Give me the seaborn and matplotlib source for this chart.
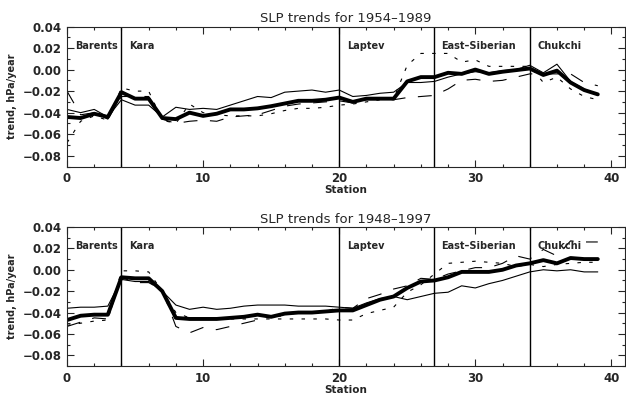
import numpy as np
import pandas as pd
import matplotlib
matplotlib.use("Agg")
import matplotlib.pyplot as plt
import seaborn as sns
from matplotlib.ticker import MultipleLocator

sns.set_style("ticks")
plt.rcParams["font.family"] = ["DejaVu Sans"]
plt.rcParams["lines.scale_dashes"] = False

stations = np.arange(40)

# SLP trends 1954-1989 (hPa/year)
mean_5489 = [-0.044, -0.045, -0.041, -0.044, -0.021, -0.027, -0.027, -0.045, -0.046, -0.040,
             -0.043, -0.041, -0.037, -0.037, -0.036, -0.034, -0.0315, -0.029, -0.029, -0.028,
             -0.026, -0.030, -0.027, -0.027, -0.027, -0.011, -0.007, -0.007, -0.003, -0.004,
             0.000, -0.004, -0.002, -0.0005, 0.001, -0.005, -0.001, -0.012, -0.019, -0.023]
thin_5489 = [-0.037, -0.040, -0.037, -0.044, -0.028, -0.033, -0.033, -0.044, -0.035, -0.037,
             -0.036, -0.037, -0.033, -0.029, -0.025, -0.026, -0.021, -0.020, -0.019, -0.021,
             -0.019, -0.025, -0.024, -0.022, -0.021, -0.012, -0.012, -0.011, -0.007, -0.004,
             -0.002, -0.003, -0.001, 0.000, 0.004, -0.003, 0.005, -0.011, -0.018, -0.023]
dot_5489 = [-0.068, -0.048, -0.043, -0.047, -0.017, -0.020, -0.020, -0.047, -0.050, -0.032,
            -0.040, -0.042, -0.043, -0.043, -0.043, -0.041, -0.038, -0.036, -0.036, -0.035,
            -0.033, -0.032, -0.030, -0.028, -0.027, 0.004, 0.015, 0.015, 0.015, 0.007,
            0.009, 0.003, 0.003, 0.003, 0.003, -0.012, -0.007, -0.018, -0.025, -0.028]
dash_5489 = [-0.020, -0.042, -0.040, -0.046, -0.025, -0.025, -0.025, -0.046, -0.050, -0.048,
             -0.047, -0.048, -0.044, -0.043, -0.042, -0.038, -0.034, -0.032, -0.031, -0.030,
             -0.029, -0.031, -0.028, -0.028, -0.028, -0.026, -0.025, -0.024, -0.018, -0.010,
             -0.009, -0.011, -0.010, -0.007, -0.004, -0.004, -0.004, -0.004, -0.012, -0.015]

# SLP trends 1948-1997 (hPa/year)
mean_4897 = [-0.047, -0.043, -0.042, -0.042, -0.007, -0.008, -0.008, -0.020, -0.045, -0.046,
             -0.046, -0.046, -0.045, -0.044, -0.042, -0.044, -0.041, -0.040, -0.040, -0.039,
             -0.038, -0.038, -0.033, -0.028, -0.025, -0.017, -0.011, -0.010, -0.007, -0.002,
             -0.002, -0.002, 0.000, 0.004, 0.006, 0.009, 0.006, 0.011, 0.010, 0.010]
thin_4897 = [-0.036, -0.035, -0.035, -0.034, -0.009, -0.011, -0.011, -0.020, -0.033, -0.037,
             -0.035, -0.037, -0.036, -0.034, -0.033, -0.033, -0.033, -0.034, -0.034, -0.034,
             -0.035, -0.036, -0.031, -0.027, -0.025, -0.028, -0.025, -0.022, -0.021, -0.015,
             -0.017, -0.013, -0.010, -0.006, -0.002, 0.000, -0.001, 0.000, -0.002, -0.002]
dot_4897 = [-0.052, -0.050, -0.048, -0.047, -0.001, -0.001, -0.002, -0.020, -0.040, -0.045,
            -0.046, -0.046, -0.046, -0.046, -0.046, -0.046, -0.046, -0.046, -0.046, -0.046,
            -0.047, -0.047, -0.041, -0.038, -0.035, -0.021, -0.014, -0.004, 0.006, 0.007,
            0.008, 0.007, 0.006, 0.003, 0.005, 0.003, 0.005, 0.006, 0.007, 0.007]
dash_4897 = [-0.053, -0.049, -0.045, -0.046, -0.007, -0.012, -0.012, -0.019, -0.053, -0.059,
             -0.054, -0.056, -0.053, -0.050, -0.047, -0.044, -0.043, -0.040, -0.040, -0.039,
             -0.035, -0.036, -0.027, -0.023, -0.018, -0.015, -0.008, -0.009, -0.004, -0.001,
             0.002, 0.002, 0.006, 0.013, 0.010, 0.019, 0.013, 0.027, 0.026, 0.026]

sea_bounds = [4, 20, 27, 34]
sea_names = ["Barents", "Kara", "Laptev", "East\u2013Siberian", "Chukchi"]
sea_label_x = [0.6, 4.6, 20.6, 27.5, 34.6]

panels = [
    ("SLP trends for 1954\u20131989", mean_5489, thin_5489, dot_5489, dash_5489),
    ("SLP trends for 1948\u20131997", mean_4897, thin_4897, dot_4897, dash_4897),
]

fig = plt.figure(figsize=(6.26, 3.94), dpi=100)
axes_rects = [
    [67 / 626, 1 - 166.5 / 394, 558 / 626, 140 / 394],
    [67 / 626, 1 - 366 / 394, 558 / 626, 139 / 394],
]

for rect, (title, mean, thin, dot, dash) in zip(axes_rects, panels):
    ax = fig.add_axes(rect)
    df = pd.DataFrame({"station": stations, "mean": mean, "thin": thin,
                       "dot": dot, "dash": dash})
    sns.lineplot(data=df, x="station", y="thin", ax=ax, color="black", lw=0.8)
    sns.lineplot(data=df, x="station", y="dot", ax=ax, color="black", lw=0.8,
                 linestyle=(0, (2.5, 6)))
    sns.lineplot(data=df, x="station", y="dash", ax=ax, color="black", lw=0.8,
                 linestyle=(0, (10, 9)))
    sns.lineplot(data=df, x="station", y="mean", ax=ax, color="black", lw=2.8)

    for b in sea_bounds:
        ax.axvline(b, color="black", lw=1.0)
    for name, xl in zip(sea_names, sea_label_x):
        ax.text(xl, 0.022, name, fontsize=7, fontweight="bold", va="center", ha="left")

    ax.set_xlim(0, 41)
    ax.set_ylim(-0.09, 0.04)
    ax.xaxis.set_major_locator(MultipleLocator(10))
    ax.xaxis.set_minor_locator(MultipleLocator(2))
    ax.yaxis.set_major_locator(MultipleLocator(0.02))
    ax.yaxis.set_minor_locator(MultipleLocator(0.01))
    ax.set_yticks(np.arange(-0.08, 0.041, 0.02))
    ax.set_yticklabels([f"{v:.2f}".replace("-", "\u2212") for v in np.arange(-0.08, 0.041, 0.02)])
    ax.tick_params(which="both", direction="in", top=True, right=True,
                   labelsize=8.5, width=0.8, pad=4)
    ax.tick_params(which="major", length=5)
    ax.tick_params(which="minor", length=2.5)
    for lab in ax.get_xticklabels() + ax.get_yticklabels():
        lab.set_fontweight("bold")
    for sp in ax.spines.values():
        sp.set_linewidth(0.8)
    ax.set_title(title, fontsize=9.5, pad=3)
    ax.set_xlabel("Station", fontsize=7.5, fontweight="bold", labelpad=0)
    ax.set_ylabel("trend, hPa/year", fontsize=7, fontweight="bold", labelpad=4)

fig.savefig("out.png", dpi=100)
